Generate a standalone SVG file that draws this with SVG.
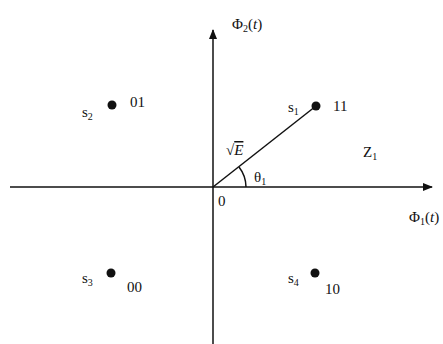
<svg xmlns="http://www.w3.org/2000/svg" width="443" height="344" viewBox="0 0 443 344">
<defs>
<style>
.t{font-family:"Liberation Serif","Times New Roman",serif;font-size:15px;fill:#111}
.s{font-size:10px}
.ax{stroke:#111;stroke-width:1.5;fill:none}
.pt{fill:#111}
</style>
<marker id="ah" viewBox="0 0 10 8" refX="9" refY="4" markerWidth="10" markerHeight="8" markerUnits="userSpaceOnUse" orient="auto">
<path d="M0,0 L10,4 L0,8 Z" fill="#111"/>
</marker>
</defs>
<rect width="443" height="344" fill="#fff"/>
<g id="connectors">
<line class="ax" x1="10" y1="187" x2="432" y2="187" marker-end="url(#ah)"/>
<line class="ax" x1="213" y1="344" x2="213" y2="30" marker-end="url(#ah)"/>
<line class="ax" x1="213" y1="187" x2="316" y2="106"/>
<path class="ax" d="M246,187 A33,33 0 0 0 239,167"/>
</g>
<g id="axis2"><text class="t" x="232" y="29">Φ<tspan class="s" dy="3">2</tspan><tspan dy="-3">(</tspan><tspan font-style="italic">t</tspan>)</text></g>
<g id="axis1"><text class="t" x="409" y="222">Φ<tspan class="s" dy="3">1</tspan><tspan dy="-3">(</tspan><tspan font-style="italic">t</tspan>)</text></g>
<g id="origin"><text class="t" x="218" y="206">0</text></g>
<g id="s1"><circle class="pt" cx="316" cy="106" r="4.5"/><text class="t" x="288" y="112">s<tspan class="s" dy="3">1</tspan></text><text class="t" x="333" y="111">11</text></g>
<g id="s2"><circle class="pt" cx="112" cy="105" r="4.5"/><text class="t" x="82" y="117">s<tspan class="s" dy="3">2</tspan></text><text class="t" x="130" y="107">01</text></g>
<g id="s3"><circle class="pt" cx="111" cy="273" r="4.5"/><text class="t" x="82" y="283">s<tspan class="s" dy="3">3</tspan></text><text class="t" x="127" y="292">00</text></g>
<g id="s4"><circle class="pt" cx="315" cy="273" r="4.5"/><text class="t" x="288" y="283">s<tspan class="s" dy="3">4</tspan></text><text class="t" x="325" y="294">10</text></g>
<g id="sqrtE"><text class="t" x="226" y="155">√<tspan font-style="italic" text-decoration="overline">E</tspan></text></g>
<g id="Z1"><text class="t" x="363" y="157">Z<tspan class="s" dy="3">1</tspan></text></g>
<g id="theta1"><text class="t" x="254" y="182">θ<tspan class="s" dy="3">1</tspan></text></g>
</svg>
